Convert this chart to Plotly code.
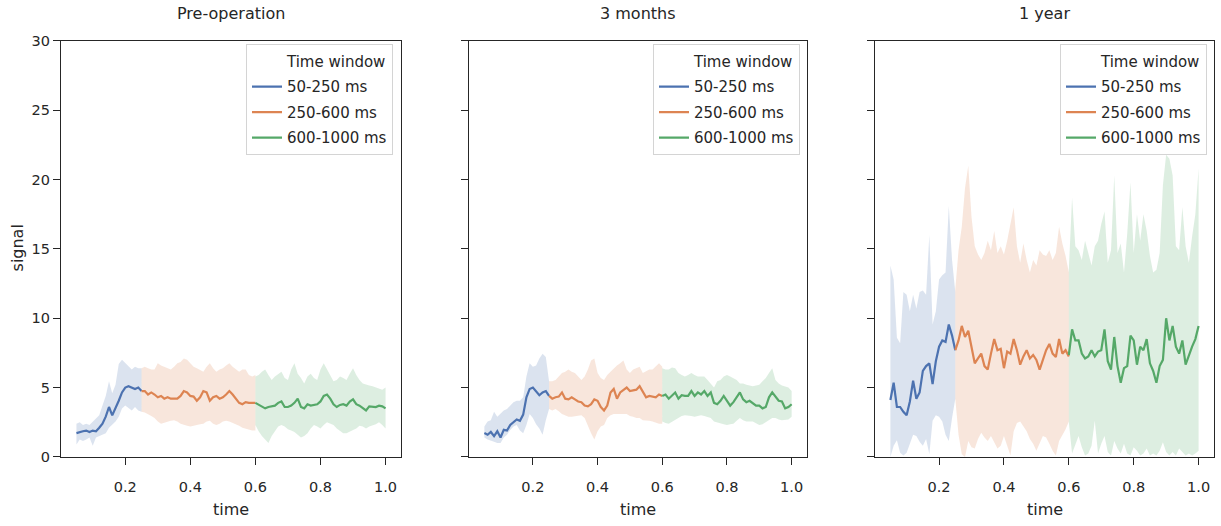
import plotly.graph_objects as go

# ---------------- data ----------------
PANELS = ["Pre-operation", "3 months", "1 year"]
WINDOWS = ["50-250 ms", "250-600 ms", "600-1000 ms"]
LEGEND_TITLE = "Time window"
X_TICKS = [0.2, 0.4, 0.6, 0.8, 1.0]
X_TICK_TEXT = ["0.2", "0.4", "0.6", "0.8", "1.0"]
Y_TICKS = [0, 5, 10, 15, 20, 25, 30]

T_EARLY = [0.05, 0.06, 0.07, 0.08, 0.09, 0.10, 0.11, 0.12, 0.13, 0.14,
           0.15, 0.16, 0.17, 0.18, 0.19, 0.20, 0.21, 0.22, 0.23, 0.24, 0.25]
T_MID = [0.25, 0.26, 0.27, 0.28, 0.29, 0.30, 0.31, 0.32, 0.33, 0.34,
         0.35, 0.36, 0.37, 0.38, 0.39, 0.40, 0.41, 0.42, 0.43, 0.44,
         0.45, 0.46, 0.47, 0.48, 0.49, 0.50, 0.51, 0.52, 0.53, 0.54,
         0.55, 0.56, 0.57, 0.58, 0.59, 0.60]
T_LATE = [0.60, 0.61, 0.62, 0.63, 0.64, 0.65, 0.66, 0.67, 0.68, 0.69,
          0.70, 0.71, 0.72, 0.73, 0.74, 0.75, 0.76, 0.77, 0.78, 0.79,
          0.80, 0.81, 0.82, 0.83, 0.84, 0.85, 0.86, 0.87, 0.88, 0.89,
          0.90, 0.91, 0.92, 0.93, 0.94, 0.95, 0.96, 0.97, 0.98, 0.99, 1.00]

# Panel 1: Pre-operation
P1_EARLY_MEAN = [1.72, 1.8, 1.85, 1.9, 1.8, 1.9, 1.85, 2.1, 2.4, 2.9,
                 3.6, 3.0, 3.5, 4.05, 4.65, 5.0, 5.1, 5.0, 4.9, 5.0, 4.75]
P1_EARLY_HI = [2.4, 2.5, 2.3, 2.4, 2.3, 2.55, 2.8, 3.0, 3.7, 4.4,
               5.45, 4.6, 5.2, 6.7, 7.0, 6.75, 6.5, 6.3, 6.5, 6.4, 6.4]
P1_EARLY_LO = [0.9, 1.25, 1.15, 1.25, 1.4, 0.8, 1.4, 1.5, 1.6, 1.7,
               2.1, 2.3, 2.55, 2.9, 3.5, 3.7, 3.5, 3.35, 3.6, 3.35, 3.25]
P1_MID_MEAN = [4.75, 4.75, 4.5, 4.65, 4.5, 4.3, 4.4, 4.2, 4.3, 4.2,
               4.2, 4.2, 4.4, 4.75, 4.65, 4.4, 4.35, 4.05, 4.3, 4.75,
               4.65, 4.05, 4.3, 4.4, 4.2, 4.3, 4.5, 4.75, 4.5, 4.2,
               3.9, 3.8, 3.95, 3.9, 3.9, 3.9]
P1_MID_HI = [6.4, 6.5, 6.4, 6.3, 6.3, 6.75, 6.6, 6.5, 6.4, 6.3,
             6.5, 6.75, 6.85, 7.1, 7.0, 6.75, 6.5, 6.4, 6.3, 6.15,
             6.5, 6.75, 6.4, 6.15, 6.3, 6.4, 6.6, 6.75, 6.5, 6.3,
             6.15, 6.3, 6.3, 5.9, 5.8, 5.9]
P1_MID_LO = [3.25, 3.2, 3.1, 2.95, 2.8, 2.55, 2.4, 2.5, 2.55, 2.6,
             2.65, 2.55, 2.4, 2.3, 2.25, 2.2, 2.3, 2.3, 2.35, 2.4,
             2.55, 2.6, 2.4, 2.3, 2.4, 2.55, 2.6, 2.55, 2.5, 2.35,
             2.25, 2.1, 2.0, 1.95, 1.9, 1.9]
P1_LATE_MEAN = [3.9, 3.75, 3.6, 3.5, 3.6, 3.65, 3.7, 3.9, 4.0, 3.6,
                3.6, 3.7, 3.9, 4.2, 3.6, 3.5, 3.8, 3.7, 3.75, 3.8,
                4.0, 4.4, 4.5, 4.2, 3.8, 3.6, 3.75, 3.8, 3.7, 4.0,
                4.15, 3.8, 3.7, 3.5, 3.35, 3.65, 3.6, 3.6, 3.7, 3.65, 3.5]
P1_LATE_HI = [5.8, 5.9, 6.15, 6.3, 5.9, 5.55, 5.8, 6.0, 6.15, 5.7,
              5.55, 6.3, 6.75, 6.0, 5.7, 5.3, 5.8, 6.0, 5.7, 5.55,
              6.3, 6.75, 6.3, 5.8, 5.45, 5.55, 5.8, 5.7, 5.55, 6.0,
              6.4, 5.9, 5.55, 5.3, 5.2, 5.15, 5.1, 5.0, 4.9, 4.85, 5.0]
P1_LATE_LO = [2.3, 1.85, 1.5, 1.25, 1.0, 1.5, 1.85, 2.2, 2.3, 2.2,
              2.0, 1.9, 1.8, 1.6, 1.4, 1.5, 1.7, 2.05, 2.3, 2.2,
              2.05, 2.3, 2.5, 2.4, 2.3, 2.05, 1.85, 1.7, 1.7, 1.85,
              1.95, 2.05, 2.25, 2.2, 2.05, 2.2, 2.3, 2.35, 2.5, 2.3, 2.05]

# Panel 2: 3 months
P2_EARLY_MEAN = [1.72, 1.6, 1.8, 1.5, 1.85, 1.4, 1.95, 1.9, 2.3, 2.5,
                 2.7, 2.6, 3.05, 4.3, 4.9, 5.0, 4.75, 4.45, 4.65, 4.75, 4.4]
P2_EARLY_HI = [2.2, 2.55, 2.65, 3.25, 2.9, 3.1, 3.35, 3.45, 3.7, 3.95,
               4.05, 4.05, 4.3, 5.8, 6.75, 6.5, 6.6, 7.1, 7.45, 7.2, 5.45]
P2_EARLY_LO = [1.4, 1.25, 1.15, 1.1, 1.0, 1.0, 1.4, 1.6, 1.95, 2.2,
               2.3, 1.9, 1.7, 2.3, 3.1, 2.8, 2.35, 2.05, 1.6, 2.65, 3.45]
P2_MID_MEAN = [4.4, 4.2, 4.3, 4.35, 4.65, 4.2, 4.15, 4.3, 4.15, 4.0,
               3.95, 3.7, 3.65, 3.8, 4.15, 4.05, 3.6, 3.35, 3.7, 4.65,
               4.9, 4.2, 4.65, 4.85, 5.0, 4.75, 4.8, 4.85, 5.1, 4.65,
               4.3, 4.4, 4.35, 4.3, 4.5, 4.4]
P2_MID_HI = [5.45, 5.45, 5.55, 5.8, 6.05, 6.15, 6.3, 6.15, 6.05, 5.8,
             5.55, 5.8, 6.3, 6.95, 7.1, 6.05, 5.7, 5.55, 5.9, 6.15,
             6.4, 6.6, 6.75, 6.95, 6.3, 6.05, 6.3, 6.4, 6.5, 6.05,
             6.15, 6.3, 6.3, 6.5, 6.75, 6.5]
P2_MID_LO = [3.45, 3.35, 3.45, 3.3, 3.1, 3.0, 2.9, 2.9, 2.9, 2.95,
             3.0, 2.8, 2.3, 1.7, 1.25, 1.85, 2.2, 2.3, 2.8, 3.0,
             3.1, 3.05, 3.05, 3.1, 3.1, 2.95, 2.9, 2.8, 2.8, 2.65,
             2.65, 2.6, 2.55, 2.5, 2.4, 2.4]
P2_LATE_MEAN = [4.4, 4.5, 4.2, 4.4, 4.65, 4.2, 4.45, 4.4, 4.4, 4.75,
                4.4, 4.65, 4.5, 4.75, 4.4, 4.65, 3.9, 3.8, 4.05, 4.4,
                4.05, 3.7, 3.95, 4.3, 4.65, 4.15, 3.95, 4.05, 3.85, 3.7,
                3.7, 3.5, 3.6, 4.3, 4.65, 4.35, 4.05, 4.0, 3.5, 3.6, 3.8]
P2_LATE_HI = [6.4, 6.3, 6.3, 6.45, 6.4, 6.05, 5.9, 5.8, 5.9, 6.05,
              5.9, 5.8, 5.8, 5.8, 5.55, 5.3, 5.0, 5.45, 5.55, 5.8,
              5.9, 5.8, 5.7, 5.55, 5.3, 5.3, 5.2, 5.15, 5.1, 5.15,
              5.2, 5.45, 5.7, 6.05, 6.4, 5.55, 5.3, 5.15, 5.1, 5.0, 4.75]
P2_LATE_LO = [2.55, 2.45, 2.4, 2.55, 2.65, 2.8, 2.95, 3.0, 3.0, 2.95,
              2.9, 2.95, 3.0, 2.95, 2.9, 2.8, 2.55, 2.5, 2.4, 2.35,
              2.3, 2.35, 2.4, 2.6, 2.8, 2.65, 2.55, 2.55, 2.55, 2.4,
              2.3, 2.35, 2.55, 2.65, 2.8, 2.8, 2.7, 2.65, 2.65, 2.7, 2.9]

# Panel 3: 1 year
P3_EARLY_MEAN = [4.1, 5.35, 3.6, 3.6, 3.25, 3.0, 4.0, 5.5, 4.2, 4.65,
                 6.2, 6.55, 6.75, 5.25, 6.9, 7.95, 8.4, 8.3, 9.55, 8.75, 7.7]
P3_EARLY_HI = [13.8, 12.8, 8.6, 8.2, 11.9, 11.7, 10.5, 11.7, 10.7, 11.9,
               12.0, 11.7, 16.0, 9.55, 10.5, 12.8, 13.1, 13.3, 18.1, 14.2, 11.9]
P3_EARLY_LO = [0.0, 0.8, 1.2, 0.3, 0.1, 0.3, 0.9, 1.6, 1.5, 1.1,
               0.8, 1.3, 0.2, 2.6, 3.0, 2.9, 2.55, 1.6, 1.15, 2.8, 4.2]
P3_MID_MEAN = [7.7, 8.4, 9.45, 8.65, 9.1, 7.95, 6.75, 7.1, 7.45, 6.55,
               6.3, 7.45, 8.5, 7.7, 7.8, 6.4, 7.6, 7.45, 8.5, 7.7,
               6.65, 7.25, 7.7, 7.1, 7.35, 7.0, 6.3, 7.0, 7.7, 8.15,
               7.45, 7.2, 8.5, 7.45, 7.7, 7.25]
P3_MID_HI = [12.1, 14.9, 16.6, 19.4, 21.0, 17.3, 15.2, 14.6, 14.2, 14.7,
             15.6, 14.9, 16.3, 14.7, 15.2, 14.6, 15.6, 16.8, 18.0, 15.2,
             14.0, 15.4, 14.2, 13.3, 14.2, 13.8, 14.9, 14.6, 14.5, 14.9,
             14.2, 14.7, 16.6, 15.4, 14.5, 13.3]
P3_MID_LO = [4.2, 1.6, 0.2, 0.0, 1.15, 0.7, 0.6, 1.3, 1.75, 1.4,
             1.15, 1.5, 1.05, 0.6, 0.8, 1.5, 0.8, 0.1, 1.85, 2.45,
             2.55, 2.2, 1.85, 1.3, 0.95, 0.45, 0.95, 1.5, 1.4, 0.95,
             0.45, 0.1, 1.15, 1.6, 2.0, 2.55]
P3_LATE_MEAN = [7.35, 9.2, 8.4, 8.4, 7.45, 7.1, 7.25, 7.7, 7.25, 7.6,
                7.7, 9.2, 6.9, 6.3, 8.65, 6.55, 5.35, 6.4, 6.55, 8.75,
                8.4, 6.65, 7.95, 7.7, 8.5, 6.75, 6.2, 5.35, 6.55, 7.0,
                10.0, 8.4, 9.45, 7.95, 7.45, 8.4, 6.65, 7.35, 7.95, 8.5, 9.45]
P3_LATE_HI = [13.5, 18.7, 15.2, 14.9, 14.2, 15.6, 14.7, 13.8, 15.2, 15.6,
              16.8, 17.7, 14.0, 14.9, 20.3, 14.7, 15.4, 13.3, 16.1, 19.8,
              14.7, 17.5, 15.6, 17.5, 16.3, 14.5, 13.3, 13.5, 14.7, 19.6,
              21.8, 21.5, 20.3, 15.2, 14.9, 18.0, 15.2, 14.0, 15.9, 17.5, 20.8]
P3_LATE_LO = [2.5, 0.25, 0.8, 1.5, 0.7, 0.1, 0.25, 0.8, 2.6, 0.25,
              0.95, 1.5, 0.35, 0.1, 1.15, 0.6, 0.25, 0.95, 0.25, 0.1,
              0.7, 0.45, 0.1, 0.25, 0.6, 0.1, 0.25, 0.1, 0.45, 1.05,
              0.35, 0.1, 0.35, 0.1, 0.6, 0.35, 0.1, 0.25, 0.1, 0.25, 0.45]

# ---------------- styling ----------------
W, H = 1221, 526
TEXT = "#262626"
FONT = "DejaVu Sans"
LINE_COLORS = ["rgb(76,114,176)", "rgb(221,132,82)", "rgb(85,168,104)"]
BAND_COLORS = ["rgba(76,114,176,0.2)", "rgba(221,132,82,0.2)", "rgba(85,168,104,0.2)"]

# pixel geometry of the three axes boxes
X_PIX = [(61, 401), (469, 807), (875, 1214)]
Y_TOP, Y_BOT = 34, 463
LEGEND_RIGHT = [393, 800, 1207]

panel_data = [
    [(T_EARLY, P1_EARLY_MEAN, P1_EARLY_LO, P1_EARLY_HI),
     (T_MID, P1_MID_MEAN, P1_MID_LO, P1_MID_HI),
     (T_LATE, P1_LATE_MEAN, P1_LATE_LO, P1_LATE_HI)],
    [(T_EARLY, P2_EARLY_MEAN, P2_EARLY_LO, P2_EARLY_HI),
     (T_MID, P2_MID_MEAN, P2_MID_LO, P2_MID_HI),
     (T_LATE, P2_LATE_MEAN, P2_LATE_LO, P2_LATE_HI)],
    [(T_EARLY, P3_EARLY_MEAN, P3_EARLY_LO, P3_EARLY_HI),
     (T_MID, P3_MID_MEAN, P3_MID_LO, P3_MID_HI),
     (T_LATE, P3_LATE_MEAN, P3_LATE_LO, P3_LATE_HI)],
]

fig = go.Figure()
legend_names = ["legend", "legend2", "legend3"]

for p, segs in enumerate(panel_data):
    xa = "x" if p == 0 else f"x{p+1}"
    ya = "y" if p == 0 else f"y{p+1}"
    lg = legend_names[p]
    # confidence bands
    for k, (t, m, lo, hi) in enumerate(segs):
        fig.add_trace(go.Scatter(
            x=list(t) + list(t)[::-1], y=list(hi) + list(lo)[::-1],
            fill="toself", fillcolor=BAND_COLORS[k], mode="lines",
            line=dict(width=0, color=BAND_COLORS[k]),
            showlegend=False, hoverinfo="skip", xaxis=xa, yaxis=ya))
    # legend pseudo-title
    fig.add_trace(go.Scatter(
        x=[None], y=[None], mode="lines", name=LEGEND_TITLE,
        line=dict(color="rgba(0,0,0,0)", width=2),
        legend=lg, legendgroup=f"g{p}t", xaxis=xa, yaxis=ya))
    # mean lines
    for k, (t, m, lo, hi) in enumerate(segs):
        fig.add_trace(go.Scatter(
            x=t, y=m, mode="lines", name=WINDOWS[k],
            line=dict(color=LINE_COLORS[k], width=2.2),
            legend=lg, legendgroup=f"g{p}{k}", xaxis=xa, yaxis=ya))

axis_common = dict(
    showgrid=False, zeroline=False, showline=True, mirror=True,
    linecolor=TEXT, linewidth=1.4, ticks="outside", ticklen=7,
    tickwidth=1.4, tickcolor=TEXT,
    tickfont=dict(family=FONT, size=14.5, color=TEXT),
)

layout = dict(
    width=W, height=H, margin=dict(l=0, r=0, t=0, b=0),
    paper_bgcolor="white", plot_bgcolor="white",
    font=dict(family=FONT, color=TEXT),
    annotations=[],
)

for p in range(3):
    x0, x1 = X_PIX[p]
    xkey = "xaxis" if p == 0 else f"xaxis{p+1}"
    ykey = "yaxis" if p == 0 else f"yaxis{p+1}"
    layout[xkey] = dict(axis_common, domain=[x0 / W, x1 / W], range=[0.0025, 1.0475],
                        tickvals=X_TICKS, ticktext=X_TICK_TEXT, ticklabelstandoff=9,
                        anchor="y" if p == 0 else f"y{p+1}")
    layout[ykey] = dict(axis_common, domain=[1 - Y_BOT / H, 1 - Y_TOP / H], range=[0, 30],
                        tickvals=Y_TICKS, showticklabels=(p == 0),
                        anchor="x" if p == 0 else f"x{p+1}")
    layout[legend_names[p]] = dict(
        x=LEGEND_RIGHT[p] / W, xanchor="right", y=1 - 37 / H, yanchor="top",
        bgcolor="rgba(255,255,255,0.85)", bordercolor="#d4d4d4", borderwidth=1,
        font=dict(family=FONT, size=15, color=TEXT), tracegroupgap=3,
        itemwidth=30)
    cx = (x0 + x1) / 2 / W
    layout["annotations"].append(dict(
        text=PANELS[p], x=cx, y=1 - 6 / H, xref="paper", yref="paper",
        xanchor="center", yanchor="middle", showarrow=False,
        font=dict(family=FONT, size=16, color=TEXT)))
    layout["annotations"].append(dict(
        text="time", x=cx, y=1 - 517 / H, xref="paper", yref="paper",
        xanchor="center", yanchor="middle", showarrow=False,
        font=dict(family=FONT, size=16, color=TEXT)))

layout["annotations"].append(dict(
    text="signal", x=17 / W, y=1 - 248 / H, xref="paper", yref="paper",
    xanchor="center", yanchor="middle", showarrow=False, textangle=-90,
    font=dict(family=FONT, size=16, color=TEXT)))

fig.update_layout(**layout)
fig.write_html("out.html")
